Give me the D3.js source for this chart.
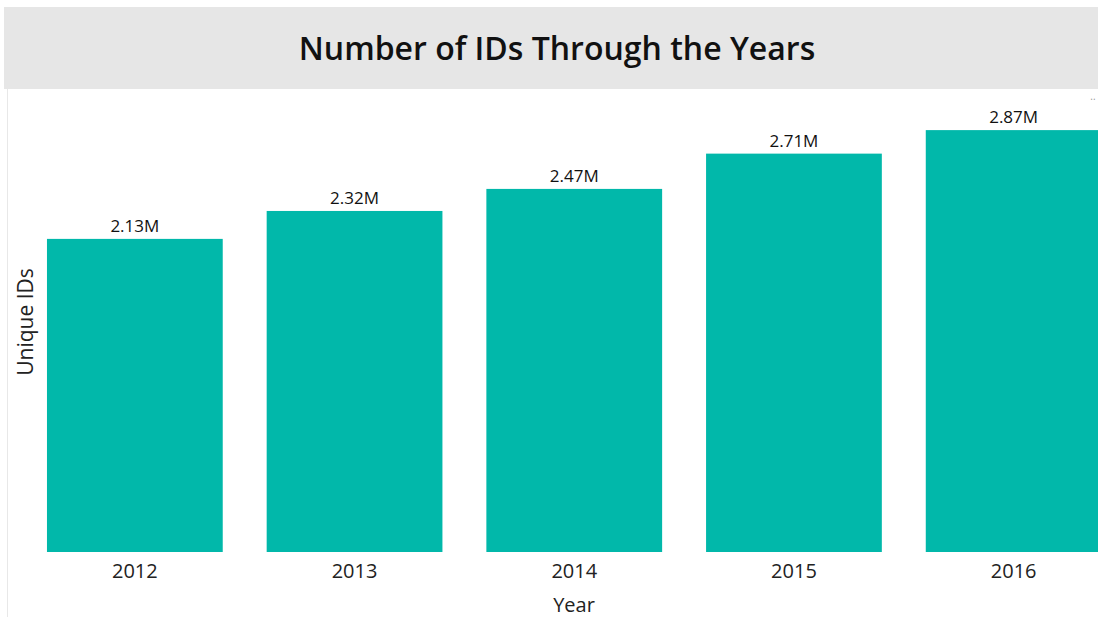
<!DOCTYPE html>
<html>
<head>
<meta charset="utf-8">
<script src="https://cdn.jsdelivr.net/npm/d3@7/dist/d3.min.js"></script>
<style>
  html, body { margin: 0; padding: 0; background: #fff; }
  svg { display: block; font-family: "Open Sans", "Noto Sans", sans-serif; }
</style>
</head>
<body>
<svg id="chart" width="1098" height="617"></svg>
<script>
// Yearly counts of unique IDs (millions)
const years = ["2012", "2013", "2014", "2015", "2016"];
const uniqueIds = [2.13, 2.32, 2.47, 2.71, 2.87];
const titleText = "Number of IDs Through the Years";
const xTitle = "Year";
const yTitle = "Unique IDs";

const W = 1098, H = 617;
const svg = d3.select("#chart");

// card border on the left edge
svg.append("line")
  .attr("x1", 7.5).attr("x2", 7.5).attr("y1", 7).attr("y2", H)
  .attr("stroke", "#e8e8e8").attr("stroke-width", 1);

// title band
svg.append("rect")
  .attr("x", 4).attr("y", 7).attr("width", W - 4).attr("height", 82)
  .attr("fill", "#e6e6e6");
svg.append("text")
  .attr("x", 557).attr("y", 60)
  .attr("text-anchor", "middle")
  .attr("font-size", 32).attr("font-weight", 600)
  .attr("fill", "#111")
  .text(titleText);

// overflow dots at the top right
svg.append("text")
  .attr("x", 1093).attr("y", 100)
  .attr("text-anchor", "middle")
  .attr("font-size", 10).attr("fill", "#999")
  .text("..");

const x = d3.scaleBand()
  .domain(years)
  .range([25, 25 + 5 * 219.7])
  .paddingInner(0.2)
  .paddingOuter(0.1);

const y = d3.scaleLinear()
  .domain([0, 3])
  .range([552, 111]);

const g = svg.append("g");
g.selectAll("rect.bar")
  .data(years)
  .join("rect")
  .attr("class", "bar")
  .attr("x", d => x(d))
  .attr("width", x.bandwidth())
  .attr("y", (d, i) => y(uniqueIds[i]))
  .attr("height", (d, i) => y(0) - y(uniqueIds[i]))
  .attr("fill", "#01b8aa");

// value labels
g.selectAll("text.val")
  .data(years)
  .join("text")
  .attr("class", "val")
  .attr("x", d => x(d) + x.bandwidth() / 2)
  .attr("y", (d, i) => y(uniqueIds[i]) - 7)
  .attr("text-anchor", "middle")
  .attr("font-size", 17)
  .attr("fill", "#111")
  .text((d, i) => d3.format(".2f")(uniqueIds[i]) + "M");

// x axis (labels only)
const xAxis = svg.append("g")
  .attr("transform", "translate(0,552)")
  .call(d3.axisBottom(x).tickSize(0).tickPadding(12));
xAxis.select(".domain").remove();
xAxis.selectAll("text")
  .attr("font-size", 20)
  .attr("font-family", "'Open Sans', 'Noto Sans', sans-serif")
  .attr("fill", "#222");

// axis titles
svg.append("text")
  .attr("x", 574).attr("y", 612)
  .attr("text-anchor", "middle")
  .attr("font-size", 20).attr("fill", "#222")
  .text(xTitle);
svg.append("text")
  .attr("transform", "translate(33,322) rotate(-90)")
  .attr("text-anchor", "middle")
  .attr("font-size", 21).attr("fill", "#222")
  .text(yTitle);
</script>
</body>
</html>
